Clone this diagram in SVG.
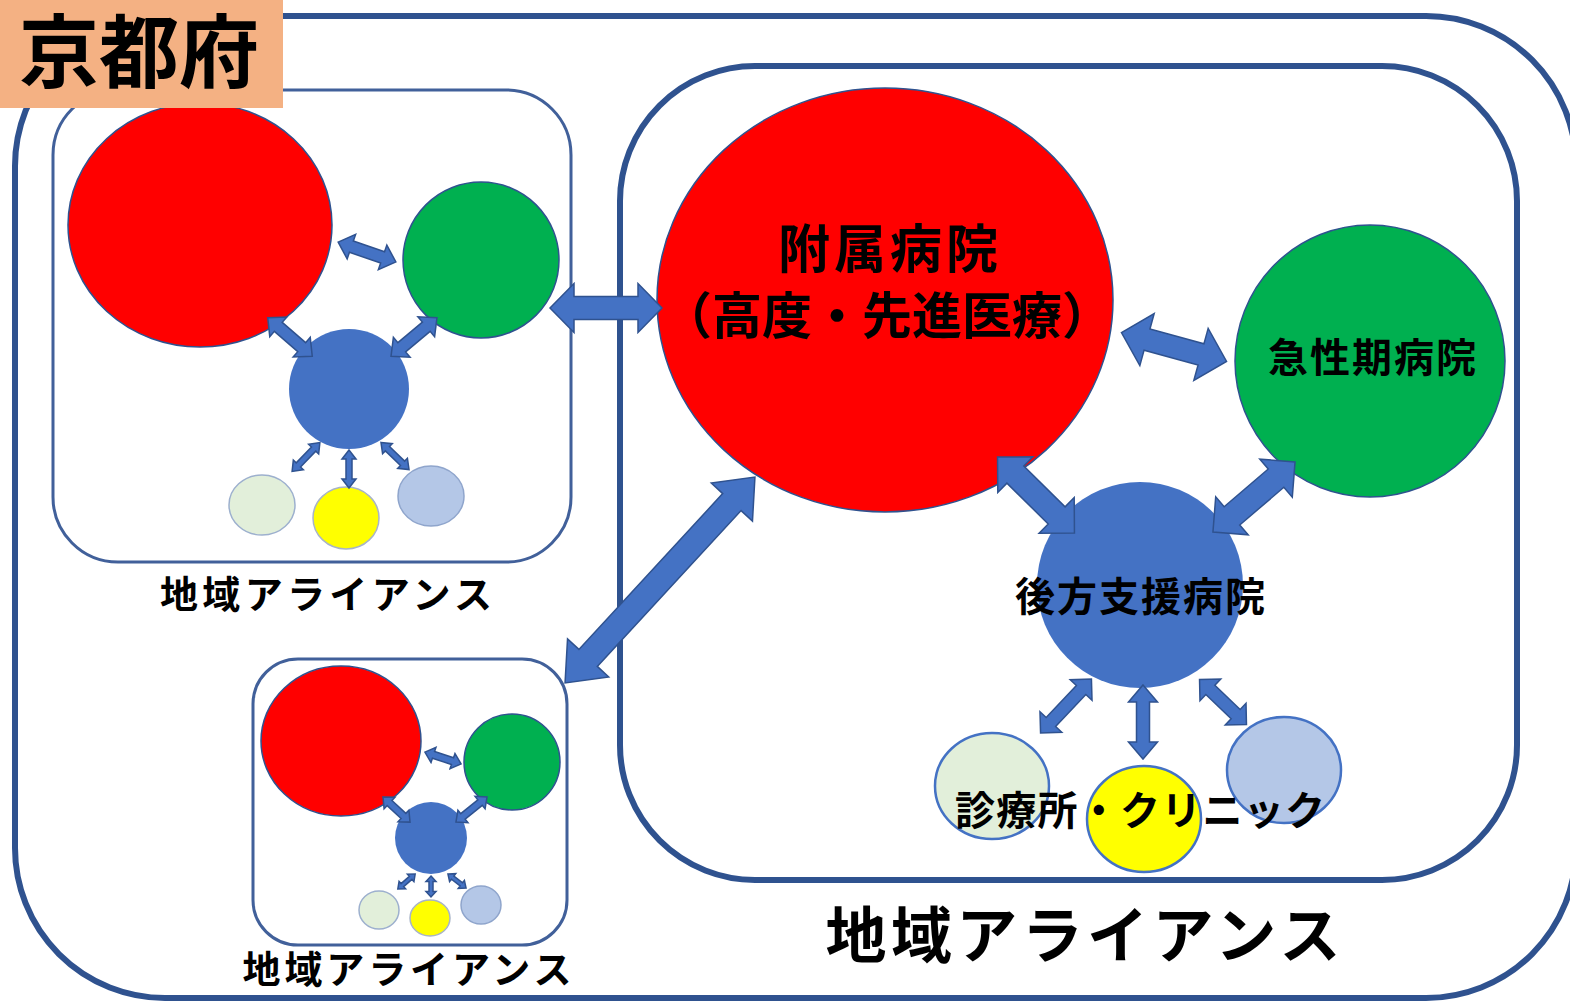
<svg xmlns="http://www.w3.org/2000/svg" width="1570" height="1005" viewBox="0 0 1570 1005">
<style>
.frame{fill:none;stroke:#2F528F;stroke-width:6}
.panel{fill:#fff;stroke:#41609A;stroke-width:3}
.arr{fill:#4472C4;stroke:#2F528F;stroke-width:1.5;stroke-linejoin:miter}
.red{fill:#FF0000;stroke:#2F528F;stroke-width:1.5}
.green{fill:#00B050;stroke:#2F528F;stroke-width:1.5}
.blue{fill:#4472C4}
.lg{fill:#E2EFDA;stroke:#4472C4;stroke-width:2.5}
.yl{fill:#FFFF00;stroke:#4472C4;stroke-width:2.5}
.lb{fill:#B4C7E7;stroke:#4472C4;stroke-width:2.5}
.slg{fill:#E2EFDA;stroke:#9DB0CE;stroke-width:1.5}
.syl{fill:#FFFF00;stroke:#A8B4C8;stroke-width:1.5}
.slb{fill:#B4C7E7;stroke:#8FA5CC;stroke-width:1.5}
text{font-family:"Noto Sans CJK JP","Noto Sans CJK SC",sans-serif;font-weight:bold;fill:#000;text-anchor:middle}
</style>
<rect width="1570" height="1005" fill="#fff"/>
<g id="kyoto-frame">
<rect class="frame" x="15" y="16" width="1561" height="982" rx="150"/>
</g>
<g id="alliance-main">
<rect class="frame" x="620" y="66" width="897" height="814" rx="135"/>
<text x="1083" y="958" font-size="61" textLength="515" lengthAdjust="spacing">地域アライアンス</text>
</g>
<g id="alliance-left-top">
<rect class="panel" x="53" y="90" width="518" height="472" rx="65"/>
<ellipse class="red" cx="200" cy="225" rx="132" ry="122"/>
<circle class="green" cx="481" cy="260" r="78"/>
<circle class="blue" cx="349" cy="389" r="60"/>
<ellipse class="slg" cx="262" cy="505" rx="33" ry="30"/>
<ellipse class="syl" cx="346" cy="518" rx="33" ry="31"/>
<ellipse class="slb" cx="431" cy="496" rx="33" ry="30"/>
<g>
<polygon class="arr" transform="translate(367,252) rotate(19)" points="-30.5,0 -16.5,-13 -16.5,-6 16.5,-6 16.5,-13 30.5,0 16.5,13 16.5,6 -16.5,6 -16.5,13"/>
<polygon class="arr" transform="translate(290,337) rotate(41)" points="-29.5,0 -15.5,-13 -15.5,-6 15.5,-6 15.5,-13 29.5,0 15.5,13 15.5,6 -15.5,6 -15.5,13"/>
<polygon class="arr" transform="translate(414,337) rotate(140)" points="-30,0 -16,-13 -16,-6 16,-6 16,-13 30,0 16,13 16,6 -16,6 -16,13"/>
<polygon class="arr" transform="translate(306,457) rotate(134)" points="-20,0 -11,-7 -11,-3 11,-3 11,-7 20,0 11,7 11,3 -11,3 -11,7"/>
<polygon class="arr" transform="translate(349,469) rotate(90)" points="-19,0 -10,-7 -10,-3 10,-3 10,-7 19,0 10,7 10,3 -10,3 -10,7"/>
<polygon class="arr" transform="translate(395,456) rotate(44)" points="-19.5,0 -10.5,-7 -10.5,-3 10.5,-3 10.5,-7 19.5,0 10.5,7 10.5,3 -10.5,3 -10.5,7"/>
</g>
<text x="326" y="608" font-size="38" textLength="332" lengthAdjust="spacing">地域アライアンス</text>
</g>
<g id="alliance-left-bottom">
<rect class="panel" x="253" y="659" width="314" height="286" rx="45" stroke-width="2.5"/>
<ellipse class="red" cx="341" cy="741" rx="80" ry="75"/>
<circle class="green" cx="512" cy="762" r="48"/>
<circle class="blue" cx="431" cy="838" r="36"/>
<ellipse class="slg" cx="379" cy="910" rx="20" ry="19"/>
<ellipse class="syl" cx="430" cy="918" rx="20" ry="18"/>
<ellipse class="slb" cx="481" cy="905" rx="20" ry="19"/>
<g>
<polygon class="arr" transform="translate(443,758) rotate(18)" points="-19,0 -10,-8 -10,-3.5 10,-3.5 10,-8 19,0 10,8 10,3.5 -10,3.5 -10,8"/>
<polygon class="arr" transform="translate(396.5,809.5) rotate(43)" points="-18.5,0 -9.5,-8 -9.5,-3.5 9.5,-3.5 9.5,-8 18.5,0 9.5,8 9.5,3.5 -9.5,3.5 -9.5,8"/>
<polygon class="arr" transform="translate(471.5,809.5) rotate(141)" points="-20,0 -11,-8 -11,-3.5 11,-3.5 11,-8 20,0 11,8 11,3.5 -11,3.5 -11,8"/>
<polygon class="arr" transform="translate(406.5,881.5) rotate(139)" points="-11.5,0 -5.5,-5 -5.5,-2 5.5,-2 5.5,-5 11.5,0 5.5,5 5.5,2 -5.5,2 -5.5,5"/>
<polygon class="arr" transform="translate(431,886.5) rotate(90)" points="-10.5,0 -5,-5 -5,-2 5,-2 5,-5 10.5,0 5,5 5,2 -5,2 -5,5"/>
<polygon class="arr" transform="translate(457,881) rotate(38)" points="-11.5,0 -5.5,-5 -5.5,-2 5.5,-2 5.5,-5 11.5,0 5.5,5 5.5,2 -5.5,2 -5.5,5"/>
</g>
<text x="407" y="983" font-size="38" textLength="329" lengthAdjust="spacing">地域アライアンス</text>
</g>
<g id="fuzoku-hospital">
<ellipse class="red" cx="885" cy="300" rx="228" ry="212"/>
<text x="888" y="268" font-size="52" textLength="220" lengthAdjust="spacing">附属病院</text>
<text x="887" y="334" font-size="50" textLength="450" lengthAdjust="spacing">（高度・先進医療）</text>
</g>
<g id="acute-hospital">
<ellipse class="green" cx="1370" cy="361" rx="135" ry="136"/>
<text x="1372" y="372" font-size="40" textLength="208" lengthAdjust="spacing">急性期病院</text>
</g>
<g id="clinics">
<ellipse class="lg" cx="992" cy="786" rx="57" ry="53"/>
<ellipse class="yl" cx="1144" cy="819" rx="57" ry="53"/>
<ellipse class="lb" cx="1284" cy="770" rx="57" ry="53"/>
</g>
<g id="support-hospital">
<circle class="blue" cx="1140" cy="585" r="103"/>
<text x="1140" y="611" font-size="40" textLength="250" lengthAdjust="spacing">後方支援病院</text>
</g>
<g id="connectors">
<polygon class="arr" transform="translate(606,308)" points="-56,0 -32,-24.5 -32,-11.5 32,-11.5 32,-24.5 56,0 32,24.5 32,11.5 -32,11.5 -32,24.5"/>
<polygon class="arr" transform="translate(660,580) rotate(-47.3)" points="-140,0 -106,-28 -106,-12.5 106,-12.5 106,-28 140,0 106,28 106,12.5 -106,12.5 -106,28"/>
<polygon class="arr" transform="translate(1174,347) rotate(15.4)" points="-54.5,0 -28,-27 -28,-11 28,-11 28,-27 54.5,0 28,27 28,11 -28,11 -28,27"/>
<polygon class="arr" transform="translate(1036,495) rotate(44.6)" points="-54,0 -29,-25 -29,-12 29,-12 29,-25 54,0 29,25 29,12 -29,12 -29,25"/>
<polygon class="arr" transform="translate(1254,497) rotate(139.5)" points="-54,0 -29,-25 -29,-12 29,-12 29,-25 54,0 29,25 29,12 -29,12 -29,25"/>
<polygon class="arr" transform="translate(1066,706) rotate(133.4)" points="-37,0 -22,-15 -22,-6.5 22,-6.5 22,-15 37,0 22,15 22,6.5 -22,6.5 -22,15"/>
<polygon class="arr" transform="translate(1143,722) rotate(90)" points="-37,0 -20,-14.5 -20,-6.5 20,-6.5 20,-14.5 37,0 20,14.5 20,6.5 -20,6.5 -20,14.5"/>
<polygon class="arr" transform="translate(1223,702) rotate(43.8)" points="-32.5,0 -17.5,-15 -17.5,-6.5 17.5,-6.5 17.5,-15 32.5,0 17.5,15 17.5,6.5 -17.5,6.5 -17.5,15"/>
</g>
<g id="clinic-label">
<text x="1140" y="825" font-size="40" textLength="370" lengthAdjust="spacing">診療所・クリニック</text>
</g>
<g id="kyoto-label">
<rect x="0" y="0" width="283" height="108" fill="#F4B183"/>
<text x="139" y="81" font-size="80" font-weight="500">京都府</text>
</g>
</svg>
